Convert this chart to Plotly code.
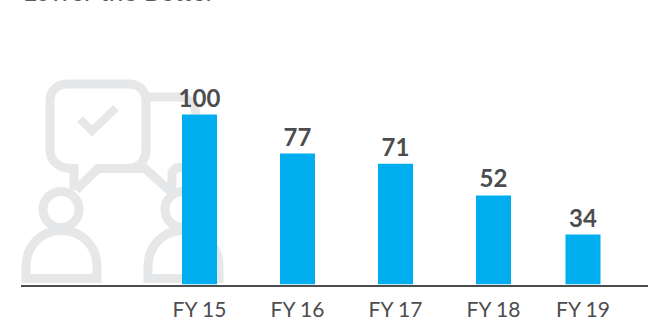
import plotly.graph_objects as go

W, H = 648, 321
BASE = 284.5

categories = ["FY 15", "FY 16", "FY 17", "FY 18", "FY 19"]
bar_heights = [100, 77, 71, 52.4, 29.4]
bar_labels = ["100", "77", "71", "52", "34"]
bar_slots = [199.5, 297.5, 395.5, 493.5, 583]

BLUE = "#00AEEF"
DARK = "#4D4D4F"
ICON = "#E6E7E8"


def px(x):
    return x / W


def py(y):
    return 1 - y / H


def path(*cmds):
    out = []
    for c in cmds:
        if isinstance(c, str):
            out.append(c)
        else:
            out.append(f"{px(c[0]):.5f},{py(c[1]):.5f}")
    return " ".join(out)


def stroke(d, w=9):
    return dict(type="path", xref="paper", yref="paper", path=d, layer="below",
                line=dict(color=ICON, width=w), fillcolor="rgba(0,0,0,0)")


def circle(cx, cy, r, w=9):
    return dict(type="circle", xref="paper", yref="paper", layer="below",
                x0=px(cx - r), x1=px(cx + r), y0=py(cy + r), y1=py(cy - r),
                line=dict(color=ICON, width=w), fillcolor="rgba(0,0,0,0)")


def person(dx):
    return [
        circle(61 + dx, 209.5, 18),
        stroke(path("M", (26 + dx, 278.5), "L", (26 + dx, 267),
                    "C", (26 + dx, 245), (42 + dx, 230.5), (61 + dx, 230.5),
                    "C", (81 + dx, 230.5), (97 + dx, 245), (97 + dx, 267),
                    "L", (97 + dx, 278.5), "Z")),
    ]


shapes = [
    # front speech bubble with tail
    stroke(path("M", (74, 190), "L", (74, 168.5), "L", (70, 168.5),
                "C", (58, 168), (50, 160), (50, 150),
                "L", (50, 101),
                "C", (50, 91), (57, 84), (67, 84),
                "L", (129, 84),
                "C", (139, 84), (146, 91), (146, 101),
                "L", (146, 150),
                "C", (146, 160), (139, 168.5), (127, 168.5),
                "L", (98, 168.5), "L", (76, 190))),
    # connector and rear speech bubble
    stroke(path("M", (127, 168.5), "L", (145, 168.5), "L", (170, 191))),
    stroke(path("M", (147, 97), "L", (178, 97),
                "C", (189, 97), (195, 104), (196, 114))),
    stroke(path("M", (172, 191), "L", (172, 172), "L", (176, 168), "L", (190, 166))),
    # check mark
    stroke(path("M", (80, 119), "L", (92, 131), "L", (116, 108)), w=8),
] + person(0) + person(122)

fig = go.Figure(go.Bar(
    x=bar_slots,
    y=bar_heights,
    width=35,
    marker=dict(color=BLUE, line=dict(width=0)),
    text=bar_labels,
    textposition="outside",
    textangle=0,
    cliponaxis=False,
    constraintext="none",
    textfont=dict(family="Lato", size=24, color=DARK, weight="bold"),
))

fig.update_layout(
    width=W,
    height=H,
    margin=dict(l=0, r=0, t=0, b=0),
    paper_bgcolor="white",
    plot_bgcolor="rgba(0,0,0,0)",
    showlegend=False,
    shapes=shapes,
    xaxis=dict(
        domain=[21 / W, 1],
        range=[21, W],
        tickmode="array",
        tickvals=bar_slots,
        ticktext=categories,
        ticks="outside",
        ticklen=5,
        tickcolor="rgba(0,0,0,0)",
        tickfont=dict(family="Lato", size=21, color=DARK),
        showline=True,
        linecolor=DARK,
        linewidth=2,
        showgrid=False,
        zeroline=False,
    ),
    yaxis=dict(
        domain=[(H - BASE) / H, 1],
        range=[0, BASE / 1.7],
        visible=False,
    ),
    annotations=[dict(
        text="Lower the Better",
        xref="paper", yref="paper",
        x=px(21), y=py(9),
        xanchor="left", yanchor="bottom",
        showarrow=False,
        font=dict(family="Lato", size=26, color="#58595B"),
    )],
)

fig.write_html(
    "out.html",
    config=dict(displayModeBar=False),
    post_script="document.body.style.margin='0';document.documentElement.style.overflow='hidden';",
)
